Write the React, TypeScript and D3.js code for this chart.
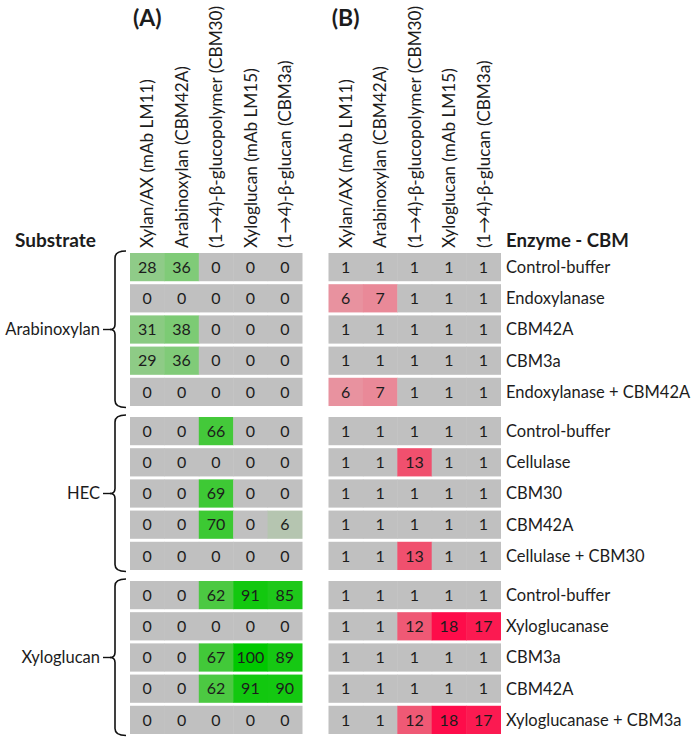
import React from "react";
import * as d3 from "d3";

const columns = [
  "Xylan/AX (mAb LM11)",
  "Arabinoxylan (CBM42A)",
  "(1→4)-β-glucopolymer (CBM30)",
  "Xyloglucan (mAb LM15)",
  "(1→4)-β-glucan (CBM3a)",
];
const substrates = ["Arabinoxylan", "HEC", "Xyloglucan"];
const treatments = [
  ["Control-buffer", "Endoxylanase", "CBM42A", "CBM3a", "Endoxylanase + CBM42A"],
  ["Control-buffer", "Cellulase", "CBM30", "CBM42A", "Cellulase + CBM30"],
  ["Control-buffer", "Xyloglucanase", "CBM3a", "CBM42A", "Xyloglucanase + CBM3a"],
];
const valuesA = [
  [[28, 36, 0, 0, 0], [0, 0, 0, 0, 0], [31, 38, 0, 0, 0], [29, 36, 0, 0, 0], [0, 0, 0, 0, 0]],
  [[0, 0, 66, 0, 0], [0, 0, 0, 0, 0], [0, 0, 69, 0, 0], [0, 0, 70, 0, 6], [0, 0, 0, 0, 0]],
  [[0, 0, 62, 91, 85], [0, 0, 0, 0, 0], [0, 0, 67, 100, 89], [0, 0, 62, 91, 90], [0, 0, 0, 0, 0]],
];
const valuesB = [
  [[1, 1, 1, 1, 1], [6, 7, 1, 1, 1], [1, 1, 1, 1, 1], [1, 1, 1, 1, 1], [6, 7, 1, 1, 1]],
  [[1, 1, 1, 1, 1], [1, 1, 13, 1, 1], [1, 1, 1, 1, 1], [1, 1, 1, 1, 1], [1, 1, 13, 1, 1]],
  [[1, 1, 1, 1, 1], [1, 1, 12, 18, 17], [1, 1, 1, 1, 1], [1, 1, 1, 1, 1], [1, 1, 12, 18, 17]],
];

const FONT = "Lato, 'Open Sans', sans-serif";
const TXT = "#1c1c1c";
const LABEL_SIZE = 16.5;
const HEADER_SIZE = 17.2;
const NUM_SIZE = 16;

const greenScale = d3
  .scaleLinear<string>()
  .domain([0, 6, 30, 65, 100])
  .range(["#c0c0c0", "#b5c5b0", "#8ccb84", "#46c93c", "#00c800"])
  .clamp(true);
const redScale = d3
  .scaleLinear<string>()
  .domain([1, 6, 13, 18])
  .range(["#c0c0c0", "#e8929f", "#f0506e", "#fe0c4a"])
  .clamp(true);

export default function App() {
  const W = 693;
  const H = 737;
  const colIdx = d3.range(columns.length).map(String);
  const xA = d3.scaleBand().domain(colIdx).range([130, 302]).paddingInner(0);
  const xB = d3.scaleBand().domain(colIdx).range([328.5, 500.5]).paddingInner(0);
  const groupScale = d3.scaleBand().domain(substrates).range([253, 734]).paddingInner(0.067);
  const rowScale = d3
    .scaleBand()
    .domain(d3.range(5).map(String))
    .range([0, groupScale.bandwidth()])
    .paddingInner(0.095);

  const panels = [
    { x: xA, values: valuesA, color: greenScale, label: "(A)" },
    { x: xB, values: valuesB, color: redScale, label: "(B)" },
  ];

  return (
    <svg
      width={W}
      height={H}
      style={{ position: "absolute", left: 0, top: 0, background: "#fff" }}
      fontFamily={FONT}
    >
      {panels.map((p, pi) => (
        <g key={pi}>
          <text
            x={p.x("0")! + p.x.bandwidth() / 2}
            y={26}
            textAnchor="middle"
            fontWeight="bold"
            fontSize={23}
            fill={TXT}
          >
            {p.label}
          </text>
          {columns.map((c, ci) => {
            const cx = p.x(String(ci))! + p.x.bandwidth() / 2;
            return (
              <text
                key={ci}
                transform={`translate(${cx},248) rotate(-90)`}
                dy="0.36em"
                fontSize={HEADER_SIZE}
                fill={TXT}
              >
                {c}
              </text>
            );
          })}
          {substrates.map((s, gi) => {
            const gy = groupScale(s)!;
            return p.values[gi].map((row, ri) => {
              const y = gy + rowScale(String(ri))!;
              const h = rowScale.bandwidth();
              return (
                <g key={`${gi}-${ri}`}>
                  {row.map((v, ci) => (
                    <rect
                      key={ci}
                      x={p.x(String(ci))!}
                      y={y}
                      width={p.x.bandwidth() + 0.5}
                      height={h}
                      fill={p.color(v)}
                    />
                  ))}
                  {row.map((v, ci) => (
                    <text
                      key={"t" + ci}
                      x={p.x(String(ci))! + p.x.bandwidth() / 2}
                      y={y + h / 2}
                      dy="0.36em"
                      textAnchor="middle"
                      fontSize={NUM_SIZE}
                      fill={TXT}
                    >
                      {v}
                    </text>
                  ))}
                </g>
              );
            });
          })}
        </g>
      ))}

      <text x={15} y={247} fontWeight="bold" fontSize={19} fill={TXT}>
        Substrate
      </text>
      <text x={506} y={247} fontWeight="bold" fontSize={18.6} fill={TXT}>
        Enzyme - CBM
      </text>

      {substrates.map((s, gi) => {
        const gy = groupScale(s)!;
        const gb = gy + groupScale.bandwidth();
        const y0 = gy - 2;
        const y1 = gb + 1.5;
        const ym = (gy + gb) / 2;
        const xl = 115;
        const xr = 126;
        const path = `M${xr},${y0} Q${xl},${y0} ${xl},${y0 + 7} L${xl},${ym - 5} Q${xl},${ym} ${xl - 5},${ym} Q${xl},${ym} ${xl},${ym + 5} L${xl},${y1 - 7} Q${xl},${y1} ${xr},${y1}`;
        return (
          <g key={s}>
            <path d={path} fill="none" stroke="#111" strokeWidth={1.6} />
            <line x1={103} x2={111} y1={ym} y2={ym} stroke="#111" strokeWidth={1.4} />
            <text x={100} y={ym} dy="0.36em" textAnchor="end" fontSize={LABEL_SIZE} fill={TXT}>
              {s}
            </text>
            {treatments[gi].map((t, ri) => (
              <text
                key={ri}
                x={506}
                y={gy + rowScale(String(ri))! + rowScale.bandwidth() / 2}
                dy="0.36em"
                fontSize={LABEL_SIZE}
                fill={TXT}
              >
                {t}
              </text>
            ))}
          </g>
        );
      })}
    </svg>
  );
}
